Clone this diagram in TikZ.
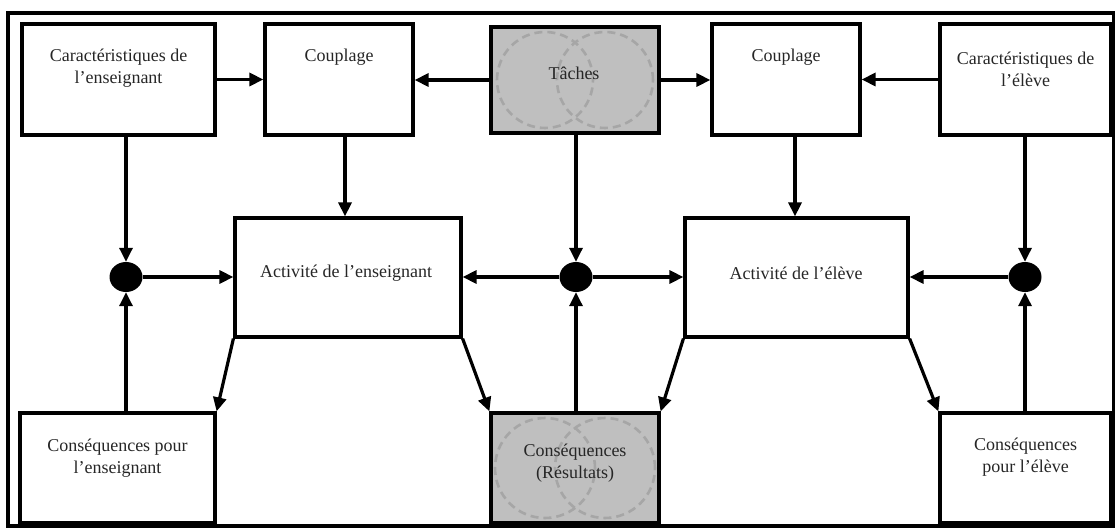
\documentclass[tikz,border=0pt]{standalone}
\usepackage{fontspec}
\setmainfont{Liberation Serif}
\usetikzlibrary{arrows.meta,shapes.geometric}

\begin{document}
\begin{tikzpicture}[x=1pt,y=-1pt,
  box/.style={draw,line width=3.2pt,inner sep=0pt},
  grisbox/.style={box,fill=black!25},
  txt/.style={text=black!85,align=center,font=\fontsize{18}{22}\selectfont},
  arr/.style={line width=3.2pt,-{Triangle[length=14pt,width=13pt]}},
  point/.style={ellipse,fill=black,minimum width=33pt,minimum height=30pt,inner sep=0pt},
  cercle/.style={draw=black!35,dash pattern=on 8pt off 5pt,line width=2.6pt}]
\useasboundingbox (0,0) rectangle (1115,529);
\draw[line width=4.5pt] (8,13) rectangle (1114,526);	%cadre
% rangee du haut
\node[box,minimum width=193pt,minimum height=111pt] (carens) at (118.5,79.5) {};
\node[box,minimum width=148pt,minimum height=111pt] (couplens) at (339,79.5) {};
\node[grisbox,minimum width=168pt,minimum height=106pt] (taches) at (575,80) {};
\draw[cercle] (545,80) circle[radius=48pt];
\draw[cercle] (605,80) circle[radius=48pt];
\node[box,minimum width=148pt,minimum height=111pt] (couplel) at (786,79.5) {};
\node[box,minimum width=171pt,minimum height=111pt] (careleve) at (1025.5,79.5) {};
% activites
\node[box,minimum width=226pt,minimum height=119pt] (actens) at (348,277.5) {};
\node[box,minimum width=223pt,minimum height=119pt] (acteleve) at (796.5,277.5) {};
\node[point] (d1) at (126,277) {};
\node[point] (d2) at (576,277) {};
\node[point] (d3) at (1025,277) {};
% rangee du bas
\node[box,minimum width=195pt,minimum height=110pt] (consens) at (117.5,468) {};
\node[grisbox,minimum width=168pt,minimum height=110pt] (consres) at (575,468) {};
\draw[cercle] (545,468) circle[radius=50pt];
\draw[cercle] (605,468) circle[radius=50pt];
\node[box,minimum width=171pt,minimum height=110pt] (conseleve) at (1025.5,468) {};
% textes
\node[txt] (carens-t) at (118.5,68) {Caractéristiques de\\l’enseignant};
\node[txt] (couplens-t) at (339,57) {Couplage};
\node[txt] (taches-t) at (574,73) {Tâches};
\node[txt] (couplel-t) at (786,57) {Couplage};
\node[txt] (careleve-t) at (1025.5,69) {Caractéristiques de\\l’élève};
\node[txt] (actens-t) at (346,273) {Activité de l’enseignant};
\node[txt] (acteleve-t) at (796,273) {Activité de l’élève};
\node[txt] (consens-t) at (117.5,458) {Conséquences pour\\l’enseignant};
\node[txt] (consres-t) at (575,463) {Conséquences\\(Résultats)};
\node[txt] (conseleve-t) at (1025.5,457) {Conséquences\\pour l’élève};
% fleches
\draw[arr] (carens.east) -- (couplens.west);
\draw[arr] (taches.west) -- (taches.west -| couplens.east);
\draw[arr] (taches.east) -- (taches.east -| couplel.west);
\draw[arr] (careleve.west) -- (couplel.east);
\draw[arr] (d1 |- carens.south) -- (d1.north);
\draw[arr] (d1 |- consens.north) -- (d1.south);
\draw[arr] (d1.east) -- (d1.east -| actens.west);
\draw[arr] ([xshift=6pt]couplens.south) -- ([xshift=6pt]couplens.south |- actens.north);
\draw[arr] (d2 |- taches.south) -- (d2.north);
\draw[arr] (d2 |- consres.north) -- (d2.south);
\draw[arr] (d2.west) -- (d2.west -| actens.east);
\draw[arr] (d2.east) -- (d2.east -| acteleve.west);
\draw[arr] ([xshift=9pt]couplel.south) -- ([xshift=9pt]couplel.south |- acteleve.north);
\draw[arr] (d3 |- careleve.south) -- (d3.north);
\draw[arr] (d3 |- conseleve.north) -- (d3.south);
\draw[arr] (d3.west) -- (d3.west -| acteleve.east);
\draw[arr] (actens.south west) -- (consens.north east);
\draw[arr] (actens.south east) -- (consres.north west);
\draw[arr] (acteleve.south west) -- (consres.north east);
\draw[arr] (acteleve.south east) -- (conseleve.north west);
\end{tikzpicture}
\end{document}
